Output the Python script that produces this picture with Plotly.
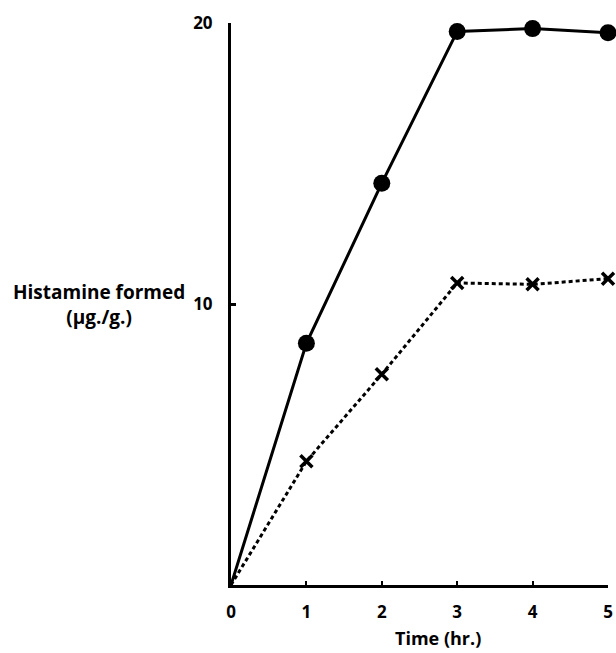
import plotly.graph_objects as go

time_hr = [0, 1, 2, 3, 4, 5]
histamine_solid = [0, 8.6, 14.3, 19.7, 19.8, 19.65]
histamine_dotted = [0, 4.4, 7.5, 10.75, 10.7, 10.9]
x_ticks = [0, 1, 2, 3, 4, 5]
x_tick_labels = ["0", "1", "2", "3", "4", "5"]
y_ticks = [10, 20]
y_tick_labels = ["10", "20"]

FAMILY = "'Open Sans', Lato, sans-serif"
TICKFONT = dict(family=FAMILY, color="black", size=17, weight="bold")
TITLEFONT = dict(family=FAMILY, color="black", size=19, weight="bold")
XTITLEFONT = dict(family=FAMILY, color="black", size=18, weight="bold")

fig = go.Figure()
fig.add_trace(go.Scatter(
    x=time_hr, y=histamine_dotted, mode="lines",
    line=dict(color="black", width=3, dash="4px,3px"),
    cliponaxis=False, showlegend=False, hoverinfo="skip"))
fig.add_trace(go.Scatter(
    x=time_hr[1:], y=histamine_dotted[1:], mode="markers",
    marker=dict(symbol="x-thin", size=12, line=dict(color="black", width=3.5)),
    cliponaxis=False, showlegend=False))
fig.add_trace(go.Scatter(
    x=time_hr, y=histamine_solid, mode="lines",
    line=dict(color="black", width=3),
    cliponaxis=False, showlegend=False, hoverinfo="skip"))
fig.add_trace(go.Scatter(
    x=time_hr[1:], y=histamine_solid[1:], mode="markers",
    marker=dict(symbol="circle", size=17, color="black"),
    cliponaxis=False, showlegend=False))

W, H = 616, 653
L, R, T, B = 231, 3, 23, 68
pw = W - L - R
ph = H - T - B


def px_to_paper_x(px):
    return (px - L) / pw


def px_to_paper_y(py):
    return (H - B - py) / ph


fig.update_layout(
    width=W, height=H,
    margin=dict(l=L, r=R, t=T, b=B, pad=0),
    paper_bgcolor="white", plot_bgcolor="white",
    font=TICKFONT,
    xaxis=dict(
        range=[0, 5], tickvals=x_ticks, ticktext=x_tick_labels,
        showgrid=False, zeroline=False, showline=True, linecolor="black", linewidth=3,
        ticks="inside", ticklen=4, tickwidth=2, tickcolor="black",
        ticklabelstandoff=10, ticklabeloverflow="allow", tickfont=TICKFONT),
    yaxis=dict(
        range=[0, 20], tickvals=y_ticks, ticktext=y_tick_labels,
        showgrid=False, zeroline=False, showline=True, linecolor="black", linewidth=3,
        ticks="inside", ticklen=5, tickwidth=2.5, tickcolor="black",
        ticklabelstandoff=12, ticklabeloverflow="allow", tickfont=TICKFONT),
    annotations=[
        dict(text="Histamine formed<br>(μg./g.)", xref="paper", yref="paper",
             x=px_to_paper_x(97), y=px_to_paper_y(304), xanchor="center", yanchor="middle",
             showarrow=False, font=TITLEFONT, align="center"),
        dict(text="Time (hr.)", xref="paper", yref="paper",
             x=px_to_paper_x(441), y=px_to_paper_y(638), xanchor="center", yanchor="middle",
             showarrow=False, font=XTITLEFONT),
    ],
)

fig.write_html(
    "out.html",
    config={"displayModeBar": False},
    post_script="document.body.style.margin='0';document.body.style.overflow='hidden';",
)
